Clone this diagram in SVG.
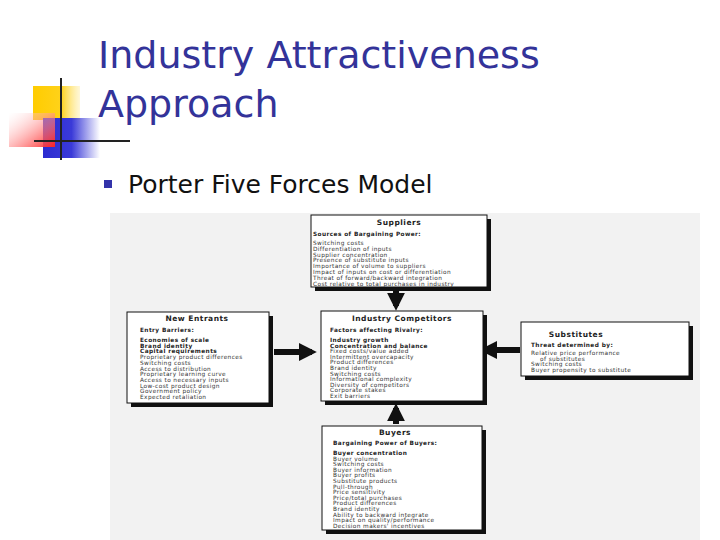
<svg xmlns="http://www.w3.org/2000/svg" width="720" height="540" viewBox="0 0 720 540">
<defs>
<linearGradient id="gb" x1="0" x2="1" y1="0" y2="0"><stop offset="0" stop-color="#2b2bd0"/><stop offset="0.5" stop-color="#3a3ad8"/><stop offset="1" stop-color="#3a3ad8" stop-opacity="0"/></linearGradient>
<linearGradient id="gr" x1="0" x2="1" y1="0" y2="1"><stop offset="0" stop-color="#ffffff" stop-opacity="0.2"/><stop offset="1" stop-color="#ff2020"/></linearGradient>
<linearGradient id="gy" x1="0" x2="1" y1="0" y2="0"><stop offset="0" stop-color="#ffcc00"/><stop offset="0.6" stop-color="#ffd21a"/><stop offset="1" stop-color="#ffe680" stop-opacity="0.3"/></linearGradient>
<marker id="ah" markerWidth="3" markerHeight="3" refX="2.2" refY="1.5" orient="auto"><path d="M0,0 L3,1.5 L0,3 Z" fill="#111"/></marker>
</defs>
<style>
.t{font-family:"DejaVu Sans","Liberation Sans",sans-serif;fill:#222;letter-spacing:0.4px}
.h{font-size:7.5px;font-weight:bold;text-anchor:middle;letter-spacing:0.5px}
.s{font-size:5.8px;font-weight:bold}
.b{font-size:5.8px;font-weight:bold}
.n{font-size:5.8px;fill:#333}
.box{fill:#fff;stroke:#111;stroke-width:1}
.sh{fill:#111}
.ar{stroke:#111;stroke-width:6;fill:none}
</style>
<rect width="720" height="540" fill="#fff"/>
<g id="decor">
<rect x="33" y="86" width="47" height="34" fill="url(#gy)"/>
<rect x="43" y="118" width="57" height="40" fill="url(#gb)"/>
<rect x="9" y="113" width="46" height="34" fill="url(#gr)"/>
<line x1="61" y1="78" x2="61" y2="160" stroke="#222" stroke-width="2"/>
<line x1="34" y1="141" x2="130" y2="141" stroke="#222" stroke-width="2"/>
</g>
<text x="98" y="68" font-family="Verdana,'DejaVu Sans',sans-serif" font-size="38" fill="#333399">Industry Attractiveness</text>
<text x="98" y="117" font-family="Verdana,'DejaVu Sans',sans-serif" font-size="38" fill="#333399">Approach</text>
<rect x="104" y="180" width="8" height="8" fill="#3333aa"/>
<text x="128" y="193" font-family="Verdana,'DejaVu Sans',sans-serif" font-size="25" fill="#111">Porter Five Forces Model</text>
<rect x="110" y="213" width="590" height="327" fill="#f2f2f2"/>
<g id="connectors">
<line class="ar" x1="396" y1="291" x2="396" y2="306" marker-end="url(#ah)"/>
<line class="ar" x1="274" y1="352" x2="312" y2="352" marker-end="url(#ah)"/>
<line class="ar" x1="520" y1="350" x2="484" y2="350" marker-end="url(#ah)"/>
<line class="ar" x1="396" y1="424" x2="396" y2="408" marker-end="url(#ah)"/>
</g>
<g id="suppliers">
<rect class="sh" x="315" y="219" width="176" height="72"/>
<rect class="box" x="311" y="215" width="176" height="72"/>
<text class="t h" x="399" y="225">Suppliers</text>
<text class="t s" x="313" y="236">Sources of Bargaining Power:</text>
<text class="t n" x="313" y="245">Switching costs</text>
<text class="t n" x="313" y="250.8">Differentiation of inputs</text>
<text class="t n" x="313" y="256.6">Supplier concentration</text>
<text class="t n" x="313" y="262.4">Presence of substitute inputs</text>
<text class="t n" x="313" y="268.2">Importance of volume to suppliers</text>
<text class="t n" x="313" y="274">Impact of inputs on cost or differentiation</text>
<text class="t n" x="313" y="279.8">Threat of forward/backward integration</text>
<text class="t n" x="313" y="285.6">Cost relative to total purchases in industry</text>
</g>
<g id="competitors">
<rect class="sh" x="325" y="315" width="162" height="90"/>
<rect class="box" x="321" y="311" width="162" height="90"/>
<text class="t h" x="402" y="321">Industry Competitors</text>
<text class="t s" x="330" y="332">Factors affecting Rivalry:</text>
<text class="t b" x="330" y="342">Industry growth</text>
<text class="t b" x="330" y="347.6">Concentration and balance</text>
<text class="t n" x="330" y="353.2">Fixed costs/value added</text>
<text class="t n" x="330" y="358.8">Intermittent overcapacity</text>
<text class="t n" x="330" y="364.4">Product differences</text>
<text class="t n" x="330" y="370">Brand identity</text>
<text class="t n" x="330" y="375.6">Switching costs</text>
<text class="t n" x="330" y="381.2">Informational complexity</text>
<text class="t n" x="330" y="386.8">Diversity of competitors</text>
<text class="t n" x="330" y="392.4">Corporate stakes</text>
<text class="t n" x="330" y="398">Exit barriers</text>
</g>
<g id="newentrants">
<rect class="sh" x="131" y="316" width="142" height="91"/>
<rect class="box" x="127" y="312" width="142" height="91"/>
<text class="t h" x="197" y="321">New Entrants</text>
<text class="t s" x="140" y="332">Entry Barriers:</text>
<text class="t b" x="140" y="342">Economies of scale</text>
<text class="t b" x="140" y="347.7">Brand identity</text>
<text class="t b" x="140" y="353.4">Capital requirements</text>
<text class="t n" x="140" y="359.1">Proprietary product differences</text>
<text class="t n" x="140" y="364.8">Switching costs</text>
<text class="t n" x="140" y="370.5">Access to distribution</text>
<text class="t n" x="140" y="376.2">Proprietary learning curve</text>
<text class="t n" x="140" y="381.9">Access to necessary inputs</text>
<text class="t n" x="140" y="387.6">Low-cost product design</text>
<text class="t n" x="140" y="393.3">Government policy</text>
<text class="t n" x="140" y="399">Expected retaliation</text>
</g>
<g id="substitutes">
<rect class="sh" x="525" y="326" width="168" height="54"/>
<rect class="box" x="521" y="322" width="168" height="54"/>
<text class="t h" x="576" y="337">Substitutes</text>
<text class="t s" x="531" y="347">Threat determined by:</text>
<text class="t n" x="531" y="355">Relative price performance</text>
<text class="t n" x="540" y="360.7">of substitutes</text>
<text class="t n" x="531" y="366.4">Switching costs</text>
<text class="t n" x="531" y="372.1">Buyer propensity to substitute</text>
</g>
<g id="buyers">
<rect class="sh" x="326" y="430" width="160" height="104"/>
<rect class="box" x="322" y="426" width="160" height="104"/>
<text class="t h" x="395" y="435">Buyers</text>
<text class="t s" x="333" y="445">Bargaining Power of Buyers:</text>
<text class="t b" x="333" y="455">Buyer concentration</text>
<text class="t n" x="333" y="460.6">Buyer volume</text>
<text class="t n" x="333" y="466.2">Switching costs</text>
<text class="t n" x="333" y="471.8">Buyer information</text>
<text class="t n" x="333" y="477.4">Buyer profits</text>
<text class="t n" x="333" y="483">Substitute products</text>
<text class="t n" x="333" y="488.6">Pull-through</text>
<text class="t n" x="333" y="494.2">Price sensitivity</text>
<text class="t n" x="333" y="499.8">Price/total purchases</text>
<text class="t n" x="333" y="505.4">Product differences</text>
<text class="t n" x="333" y="511">Brand identity</text>
<text class="t n" x="333" y="516.6">Ability to backward integrate</text>
<text class="t n" x="333" y="522.2">Impact on quality/performance</text>
<text class="t n" x="333" y="527.8">Decision makers' incentives</text>
</g>
</svg>
